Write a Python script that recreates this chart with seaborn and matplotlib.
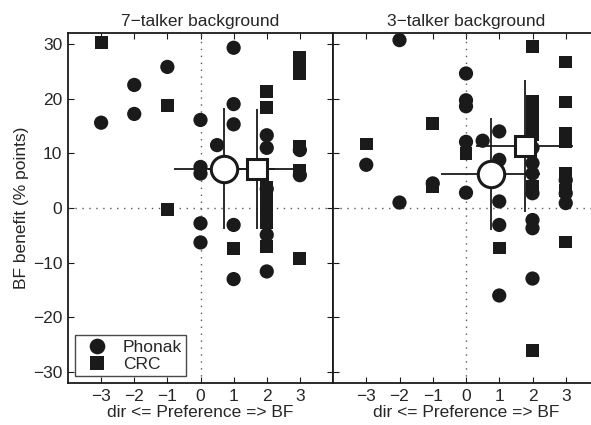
import numpy as np
import pandas as pd
import matplotlib
matplotlib.use("Agg")
import matplotlib.pyplot as plt
import seaborn as sns

# preference (x) and BF benefit (y)
# 7-talker background
p7_pref = [-3, -2, -2, -1, 0, 0, 0, 0, 0, 0.5, 1, 1, 1, 1, 1, 2, 2, 2, 2, 2, 3, 3]
p7_ben = [15.6, 22.5, 17.2, 25.8, 16.1, 7.5, 6.3, -2.8, -6.3, 11.5, 29.3, 19.0, 15.3, -3.1, -13.0,
          13.3, 11.0, 3.5, -4.9, -11.6, 10.6, 6.0]
c7_pref = [-3, -1, -1, 1, 2, 2, 2, 2, 2, 2, 2, 2, 3, 3, 3, 3, 3, 3]
c7_ben = [30.2, 18.8, -0.3, -7.4, 21.3, 18.4, 3.8, 2.2, 0.5, -1.0, -2.6, -7.0,
          27.5, 26.0, 24.5, 11.2, 6.8, -9.2]
# 3-talker background
p3_pref = [-3, -2, -2, -1, 0, 0, 0, 0, 0, 0.5, 1, 1, 1, 1, 1, 2, 2, 2, 2, 2, 2, 2, 3, 3, 3]
p3_ben = [7.9, 30.7, 1.0, 4.5, 24.6, 19.7, 18.6, 12.1, 2.8, 12.3, 14.0, 8.8, 1.2, -3.1, -16.0,
          11.0, 8.2, 6.3, 2.7, -2.2, -3.7, -12.9, 5.1, 2.7, 0.9]
c3_pref = [-3, -1, -1, 0, 1, 2, 2, 2, 2, 2, 2, 2, 3, 3, 3, 3, 3, 3, 3]
c3_ben = [11.7, 15.4, 3.9, 10.0, -7.3, 29.5, 19.5, 17.5, 15.5, 13.5, 3.9, -26.1,
          26.7, 19.4, 13.7, 12.1, 6.3, 3.2, -6.2]

# group means +/- SD
titles = ["7\u2212talker background", "3\u2212talker background"]
mean_pref = {"Phonak": [0.72, 0.74], "CRC": [1.70, 1.76]}
mean_ben = {"Phonak": [7.2, 6.2], "CRC": [7.1, 11.3]}
sd_pref = {"Phonak": [1.53, 1.50], "CRC": [1.47, 1.47]}
sd_ben = {"Phonak": [11.0, 10.2], "CRC": [11.0, 12.1]}

rows = []
for panel, (pp, pb, cp, cb) in enumerate([(p7_pref, p7_ben, c7_pref, c7_ben),
                                           (p3_pref, p3_ben, c3_pref, c3_ben)]):
    rows += [(panel, "Phonak", x, y) for x, y in zip(pp, pb)]
    rows += [(panel, "CRC", x, y) for x, y in zip(cp, cb)]
df = pd.DataFrame(rows, columns=["panel", "device", "pref", "benefit"])

sns.set_style("ticks")
plt.rcParams["font.family"] = ["Liberation Sans", "DejaVu Sans"]
fs = 12.5
plt.rcParams["font.size"] = fs

fig = plt.figure(figsize=(5.91, 4.25), dpi=100)
ax1 = fig.add_axes([68 / 591, 42 / 425, 265 / 591, 350 / 425])
ax2 = fig.add_axes([333 / 591, 42 / 425, 266 / 591, 350 / 425])

for i, ax in enumerate([ax1, ax2]):
    ax.axhline(0, color="0.35", lw=1, ls=(0, (1, 4)), zorder=1)
    ax.axvline(0, color="0.35", lw=1, ls=(0, (1, 4)), zorder=1)
    sns.scatterplot(data=df[df.panel == i], x="pref", y="benefit", style="device",
                    size="device", markers={"Phonak": "o", "CRC": "s"},
                    sizes={"Phonak": 105, "CRC": 85}, color="#1a1a1a", linewidth=0,
                    legend=(i == 0), ax=ax, zorder=2)
    for dev, mk, ms in [("Phonak", "o", 19), ("CRC", "s", 15)]:
        ax.errorbar(mean_pref[dev][i], mean_ben[dev][i], xerr=sd_pref[dev][i], yerr=sd_ben[dev][i],
                    fmt="none", ecolor="#1a1a1a", elinewidth=1.3, capsize=0, zorder=3)
        ax.plot(mean_pref[dev][i], mean_ben[dev][i], marker=mk, ms=ms, mfc="white",
                mec="#1a1a1a", mew=2.2, zorder=4)
    ax.set_xlim(-4, 4)
    ax.set_ylim(-32, 32)
    ax.set_xticks(range(-3, 4))
    ax.set_yticks(range(-30, 31, 10))
    ax.tick_params(direction="in", top=True, right=True, length=4, width=0.8,
                   labelsize=fs, pad=4, color="#1a1a1a")
    for s in ax.spines.values():
        s.set_linewidth(1.3)
        s.set_color("#1a1a1a")
    ax.set_title(titles[i], fontsize=fs, pad=5)
    ax.set_xlabel("dir <= Preference => BF", fontsize=fs, labelpad=1)

ax1.set_ylabel("BF benefit (% points)", fontsize=fs, labelpad=3)
ax2.set_ylabel("")
ax2.tick_params(labelleft=False)

h, l = ax1.get_legend_handles_labels()
ax1.legend(h, l, loc="lower left", frameon=True, fancybox=False, edgecolor="#1a1a1a",
           fontsize=fs, handletextpad=0.5, borderpad=0.25, labelspacing=0.1,
           borderaxespad=0.4, handlelength=2.0, markerscale=1.1)
ax1.get_legend().get_frame().set_linewidth(1.0)

fig.savefig("out.png", dpi=100)
